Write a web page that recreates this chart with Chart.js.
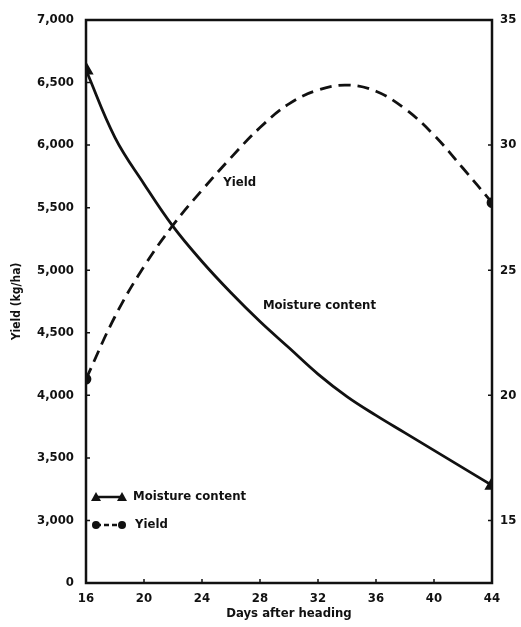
<!DOCTYPE html>
<html>
<head>
<meta charset="utf-8">
<script src="https://cdn.jsdelivr.net/npm/chart.js@4.4.1/dist/chart.umd.min.js"></script>
<style>
  html, body { margin: 0; padding: 0; background: #fff; }
  #wrap { width: 521px; height: 627px; }
</style>
</head>
<body>
<div id="wrap"><canvas id="chart" width="521" height="627"></canvas></div>
<script>
const days = [16, 18, 20, 22, 24, 26, 28, 30, 32, 34, 36, 38, 40, 42, 44];
const yieldKg = [4130, 4630, 5030, 5360, 5640, 5900, 6140, 6330, 6440, 6480, 6430, 6290, 6080, 5815, 5540];
const moisture = [33.0, 30.3, 28.45, 26.75, 25.35, 24.1, 22.95, 21.9, 20.85, 19.95, 19.2, 18.5, 17.8, 17.1, 16.4];
const dayTicks = [16, 20, 24, 28, 32, 36, 40, 44];
const yieldTicks = [2500, 3000, 3500, 4000, 4500, 5000, 5500, 6000, 6500, 7000];
const moistureTicks = [15, 20, 25, 30, 35];

const FONT = "'Liberation Sans Narrow', 'DejaVu Sans Condensed', 'Liberation Sans', sans-serif";
const ink = '#111';

function endsOnly(r) {
  return ctx => (ctx.dataIndex === 0 || ctx.dataIndex === days.length - 1) ? r : 0;
}

// frame, inward tick marks, in-plot labels and legend
const decor = {
  id: 'decor',
  afterDraw(chart) {
    const c = chart.ctx;
    const a = chart.chartArea;
    const sx = chart.scales.x, sy = chart.scales.y, sy1 = chart.scales.y1;
    c.save();
    c.strokeStyle = ink;
    c.lineWidth = 2.5;
    c.strokeRect(a.left, a.top, a.right - a.left, a.bottom - a.top);

    c.lineWidth = 1.5;
    c.beginPath();
    dayTicks.forEach(v => { const p = sx.getPixelForValue(v); c.moveTo(p, a.bottom); c.lineTo(p, a.bottom - 4); });
    yieldTicks.forEach(v => { const p = sy.getPixelForValue(v); c.moveTo(a.left, p); c.lineTo(a.left + 4, p); });
    moistureTicks.forEach(v => { const p = sy1.getPixelForValue(v); c.moveTo(a.right, p); c.lineTo(a.right - 4, p); });
    c.stroke();

    c.fillStyle = ink;
    c.font = 'bold 13px ' + FONT;
    c.textBaseline = 'middle';
    c.textAlign = 'center';
    c.fillText('Yield', sx.getPixelForValue(26.6), sy.getPixelForValue(5700));
    c.fillText('Moisture content', sx.getPixelForValue(32.1), sy1.getPixelForValue(23.6));

    // legend
    const lx = a.left + 10, lx2 = a.left + 36;
    const y1 = a.bottom - 86, y2 = a.bottom - 58;
    c.lineWidth = 2.5;
    c.beginPath(); c.moveTo(lx, y1); c.lineTo(lx2, y1); c.stroke();
    [lx, lx2].forEach(px => {
      c.beginPath();
      c.moveTo(px, y1 - 5); c.lineTo(px + 5, y1 + 4); c.lineTo(px - 5, y1 + 4);
      c.closePath(); c.fill();
    });
    c.setLineDash([5, 3]);
    c.beginPath(); c.moveTo(lx, y2); c.lineTo(lx2, y2); c.stroke();
    c.setLineDash([]);
    [lx, lx2].forEach(px => {
      c.beginPath(); c.arc(px, y2, 4, 0, Math.PI * 2); c.fill();
    });
    c.textAlign = 'left';
    c.fillText('Moisture content', lx2 + 11, y1);
    c.fillText('Yield', lx2 + 13, y2);
    c.restore();
  }
};

new Chart(document.getElementById('chart'), {
  type: 'line',
  data: {
    datasets: [
      {
        label: 'Moisture content',
        data: days.map((d, i) => ({ x: d, y: moisture[i] })),
        yAxisID: 'y1',
        borderColor: ink,
        backgroundColor: ink,
        borderWidth: 2.8,
        tension: 0.4,
        pointStyle: 'triangle',
        pointRadius: endsOnly(6),
        fill: false
      },
      {
        label: 'Yield',
        data: days.map((d, i) => ({ x: d, y: yieldKg[i] })),
        yAxisID: 'y',
        borderColor: ink,
        backgroundColor: ink,
        borderWidth: 2.8,
        borderDash: [12, 7],
        tension: 0.4,
        pointStyle: 'circle',
        pointRadius: endsOnly(4),
        fill: false
      }
    ]
  },
  options: {
    responsive: false,
    animation: false,
    layout: { padding: { top: 20, left: 0, right: 0, bottom: 0 } },
    plugins: { legend: { display: false }, tooltip: { enabled: false } },
    scales: {
      x: {
        type: 'linear',
        min: 16, max: 44,
        afterBuildTicks: s => { s.ticks = dayTicks.map(v => ({ value: v })); },
        afterFit: s => { s.height = 44; },
        grid: { display: false, drawTicks: false },
        border: { display: false },
        ticks: { color: ink, padding: 8, font: { family: FONT, size: 13, weight: 'bold' } },
        title: {
          display: true, text: 'Days after heading', color: ink,
          padding: { top: 0, bottom: 6 },
          font: { family: FONT, size: 13, weight: 'bold' }
        }
      },
      y: {
        position: 'left',
        min: 2500, max: 7000,
        afterBuildTicks: s => { s.ticks = yieldTicks.map(v => ({ value: v })); },
        afterFit: s => { s.width = 86; },
        grid: { display: false, drawTicks: false },
        border: { display: false },
        ticks: {
          color: ink, padding: 12,
          font: { family: FONT, size: 13, weight: 'bold' },
          callback: v => v === 2500 ? '0' : v.toLocaleString('en-US')
        },
        title: {
          display: true, text: 'Yield (kg/ha)', color: ink,
          padding: { top: 10, bottom: 0 },
          font: { family: FONT, size: 12, weight: 'bold' }
        }
      },
      y1: {
        position: 'right',
        min: 12.5, max: 35,
        afterBuildTicks: s => { s.ticks = moistureTicks.map(v => ({ value: v })); },
        afterFit: s => { s.width = 29; },
        grid: { display: false, drawTicks: false },
        border: { display: false },
        ticks: { color: ink, padding: 8, font: { family: FONT, size: 13, weight: 'bold' } }
      }
    }
  },
  plugins: [decor]
});
</script>
</body>
</html>
